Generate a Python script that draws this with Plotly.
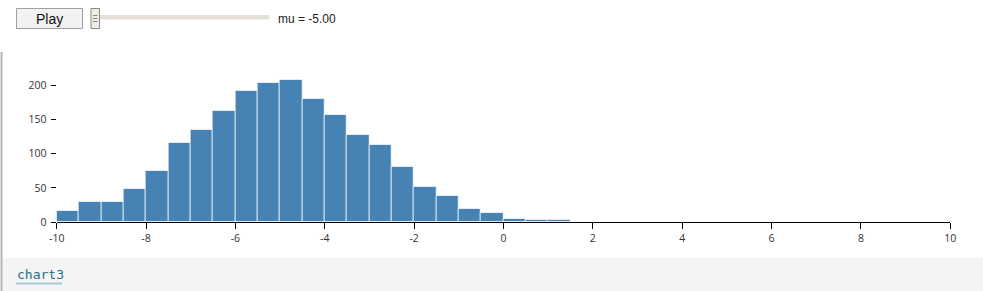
import plotly.graph_objects as go

# ---- data ----
bin_lefts = [-10, -9.5, -9, -8.5, -8, -7.5, -7, -6.5, -6, -5.5, -5, -4.5, -4, -3.5,
             -3, -2.5, -2, -1.5, -1, -0.5, 0, 0.5, 1, 1.5]
counts = [16, 29, 30, 48, 75, 115, 134, 162, 191, 203, 208, 180, 157, 127,
          112, 81, 51, 38, 20, 13, 5, 4, 3, 1]
bin_width = 0.5
x_tick_vals = [-10, -8, -6, -4, -2, 0, 2, 4, 6, 8, 10]
x_tick_text = ["-10", "-8", "-6", "-4", "-2", "0", "2", "4", "6", "8", "10"]
y_tick_vals = [0, 50, 100, 150, 200]
y_tick_text = ["0", "50", "100", "150", "200"]
mu_label = "mu = -5.00"
button_label = "Play"
cell_name = "chart3"

W, H = 983, 291


def px(x):
    return x / W


def py(y):
    return 1 - y / H


centers = [b + bin_width / 2 for b in bin_lefts]

fig = go.Figure(go.Bar(
    x=centers, y=counts, width=[bin_width] * len(counts),
    marker=dict(color="#4682b4", line=dict(color="rgba(255,255,255,0.7)", width=1)),
    hoverinfo="x+y",
))

plot_left, plot_right = 56.7, 950.3
plot_top, plot_bottom = 60.0, 222.3
px_per_unit = (222.3 - 85.0) / 200
y_top = (plot_bottom - plot_top) / px_per_unit

tick_font = dict(family="Open Sans, Noto Sans, sans-serif", size=10.5, color="#333")

fig.update_layout(
    template="none",
    width=W, height=H, autosize=False,
    margin=dict(l=0, r=0, t=0, b=0, pad=0, autoexpand=False),
    paper_bgcolor="white", plot_bgcolor="white",
    showlegend=False,
    bargap=0,
    xaxis=dict(
        domain=[px(plot_left), px(plot_right)], automargin=False,
        range=[-10, 10], showgrid=False, zeroline=False,
        showline=True, linecolor="black", linewidth=1,
        ticks="outside", ticklen=6, tickcolor="black", tickwidth=1,
        tickvals=x_tick_vals, ticktext=x_tick_text, tickfont=tick_font,
    ),
    yaxis=dict(
        domain=[py(plot_bottom), py(plot_top)], automargin=False,
        range=[0, y_top], showgrid=False, zeroline=False, showline=False,
        ticks="outside", ticklen=5, tickcolor="black", tickwidth=1,
        ticklabelstandoff=2,
        tickvals=y_tick_vals, ticktext=y_tick_text, tickfont=tick_font,
    ),
)

shapes = []
# left gray cell border
shapes.append(dict(type="line", xref="paper", yref="paper",
                   x0=px(1.5), x1=px(1.5), y0=py(52), y1=py(291),
                   line=dict(color="#b5b5b5", width=2)))
# bottom gray band
shapes.append(dict(type="rect", xref="paper", yref="paper",
                   x0=px(2.5), x1=px(983), y0=py(291), y1=py(258),
                   fillcolor="#f4f4f4", line=dict(width=0), layer="below"))
# underline of cell name
shapes.append(dict(type="line", xref="paper", yref="paper",
                   x0=px(16), x1=px(62), y0=py(283.5), y1=py(283.5),
                   line=dict(color="#a9c9d9", width=2)))
# play button
shapes.append(dict(type="rect", xref="paper", yref="paper",
                   x0=px(16.5), x1=px(82.5), y0=py(28.5), y1=py(8.5),
                   fillcolor="#f2f2f2", line=dict(color="#a0a0a0", width=1)))
# slider track
shapes.append(dict(type="rect", xref="paper", yref="paper",
                   x0=px(96), x1=px(269.5), y0=py(19.5), y1=py(15),
                   fillcolor="#e5e1da", line=dict(width=0)))
# slider handle
shapes.append(dict(type="rect", xref="paper", yref="paper",
                   x0=px(91), x1=px(99.5), y0=py(28.5), y1=py(8.5),
                   fillcolor="#efece6", line=dict(color="#8c877d", width=1)))
for gy in [15.5, 18.5, 21.5]:
    shapes.append(dict(type="line", xref="paper", yref="paper",
                       x0=px(93), x1=px(97.5), y0=py(gy), y1=py(gy),
                       line=dict(color="#8c877d", width=1)))
fig.update_layout(shapes=shapes)

annotations = [
    dict(text=button_label, xref="paper", yref="paper", x=px(49.5), y=py(18.5),
         xanchor="center", yanchor="middle", showarrow=False,
         font=dict(family="Liberation Sans, Arial, sans-serif", size=14, color="#111")),
    dict(text=mu_label, xref="paper", yref="paper", x=px(276), y=py(18.5),
         xanchor="left", yanchor="middle", showarrow=False,
         font=dict(family="Liberation Sans, Arial, sans-serif", size=12, color="#222")),
    dict(text=cell_name, xref="paper", yref="paper", x=px(15), y=py(274),
         xanchor="left", yanchor="middle", showarrow=False,
         font=dict(family="DejaVu Sans Mono, monospace", size=13, color="#1f6c88")),
]
fig.update_layout(annotations=annotations)

fig.write_html("out.html", config={"displayModeBar": False})
